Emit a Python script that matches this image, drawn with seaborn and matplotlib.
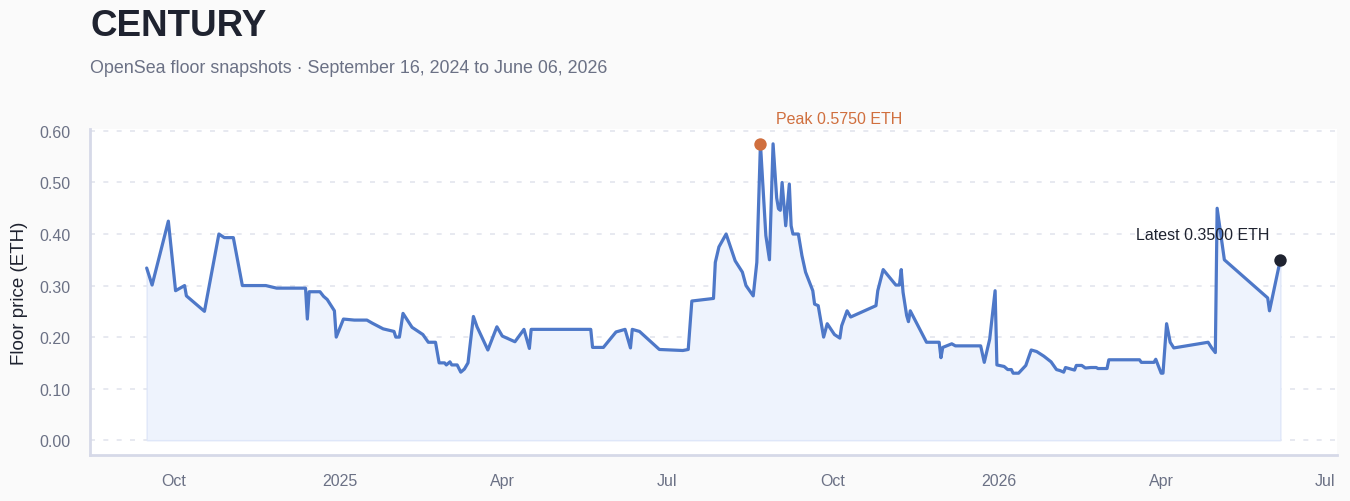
"""
CENTURY 地板价走势图
OpenSea floor snapshots, 折线 + 面积填充
"""

import matplotlib
matplotlib.use("Agg")
import matplotlib.pyplot as plt
import matplotlib.dates as mdates
import matplotlib.ticker as mticker
import seaborn as sns
import pandas as pd

# 数据
COLLECTION = "CENTURY"
SUBTITLE = "OpenSea floor snapshots · September 16, 2024 to June 06, 2026"

snapshot_dates = [
    "2024-09-16", "2024-09-19", "2024-09-28", "2024-10-02", "2024-10-07", "2024-10-08",
    "2024-10-18", "2024-10-26", "2024-10-29", "2024-11-03", "2024-11-08", "2024-11-21",
    "2024-11-27", "2024-12-13", "2024-12-14", "2024-12-15", "2024-12-21", "2024-12-23",
    "2024-12-25", "2024-12-29", "2024-12-30", "2025-01-03", "2025-01-09", "2025-01-16",
    "2025-01-19", "2025-01-25", "2025-01-31", "2025-02-01", "2025-02-03", "2025-02-05",
    "2025-02-10", "2025-02-13", "2025-02-16", "2025-02-19", "2025-02-23", "2025-02-25",
    "2025-02-28", "2025-03-01", "2025-03-03", "2025-03-04", "2025-03-07", "2025-03-09",
    "2025-03-11", "2025-03-13", "2025-03-16", "2025-03-18", "2025-03-24", "2025-03-29",
    "2025-04-01", "2025-04-08", "2025-04-13", "2025-04-16", "2025-04-17", "2025-05-20",
    "2025-05-21", "2025-05-27", "2025-06-03", "2025-06-08", "2025-06-11", "2025-06-12",
    "2025-06-16", "2025-06-27", "2025-07-10", "2025-07-13", "2025-07-15", "2025-07-27",
    "2025-07-28", "2025-07-30", "2025-08-03", "2025-08-08", "2025-08-12", "2025-08-14",
    "2025-08-18", "2025-08-20", "2025-08-22", "2025-08-25", "2025-08-27", "2025-08-29",
    "2025-08-31", "2025-09-01", "2025-09-02", "2025-09-03", "2025-09-05", "2025-09-07",
    "2025-09-08", "2025-09-09", "2025-09-12", "2025-09-14", "2025-09-16", "2025-09-20",
    "2025-09-21", "2025-09-23", "2025-09-26", "2025-09-28", "2025-10-02", "2025-10-05",
    "2025-10-06", "2025-10-09", "2025-10-11", "2025-10-25", "2025-10-26", "2025-10-29",
    "2025-11-05", "2025-11-07", "2025-11-08", "2025-11-09", "2025-11-11", "2025-11-12",
    "2025-11-13", "2025-11-17", "2025-11-22", "2025-11-29", "2025-11-30", "2025-12-01",
    "2025-12-06", "2025-12-08", "2025-12-22", "2025-12-24", "2025-12-27", "2025-12-30",
    "2025-12-31", "2026-01-04", "2026-01-06", "2026-01-08", "2026-01-09", "2026-01-12",
    "2026-01-16", "2026-01-19", "2026-01-22", "2026-01-26", "2026-01-30", "2026-02-02",
    "2026-02-04", "2026-02-06", "2026-02-07", "2026-02-10", "2026-02-12", "2026-02-13",
    "2026-02-16", "2026-02-18", "2026-02-21", "2026-02-24", "2026-02-25", "2026-03-02",
    "2026-03-03", "2026-03-20", "2026-03-21", "2026-03-28", "2026-03-29", "2026-04-01",
    "2026-04-02", "2026-04-04", "2026-04-06", "2026-04-08", "2026-04-27", "2026-04-29",
    "2026-05-01", "2026-05-02", "2026-05-06", "2026-05-30", "2026-05-31", "2026-06-06",
]

floor_eth = [
    0.334, 0.301, 0.425, 0.290, 0.300, 0.280,
    0.250, 0.400, 0.393, 0.393, 0.300, 0.300,
    0.295, 0.295, 0.235, 0.288, 0.288, 0.279,
    0.273, 0.251, 0.200, 0.235, 0.233, 0.233,
    0.227, 0.216, 0.211, 0.200, 0.200, 0.246,
    0.219, 0.212, 0.205, 0.190, 0.190, 0.150,
    0.150, 0.146, 0.152, 0.146, 0.146, 0.132,
    0.138, 0.150, 0.240, 0.220, 0.175, 0.220,
    0.202, 0.191, 0.215, 0.178, 0.215, 0.215,
    0.180, 0.180, 0.210, 0.215, 0.179, 0.215,
    0.211, 0.176, 0.174, 0.176, 0.270, 0.275,
    0.345, 0.375, 0.400, 0.348, 0.326, 0.300,
    0.280, 0.345, 0.575, 0.397, 0.350, 0.575,
    0.470, 0.449, 0.446, 0.500, 0.416, 0.497,
    0.416, 0.400, 0.400, 0.358, 0.326, 0.290,
    0.264, 0.261, 0.200, 0.226, 0.205, 0.198,
    0.222, 0.251, 0.239, 0.261, 0.290, 0.331,
    0.301, 0.301, 0.331, 0.287, 0.242, 0.230,
    0.251, 0.224, 0.190, 0.190, 0.160, 0.180,
    0.187, 0.183, 0.183, 0.151, 0.196, 0.290,
    0.146, 0.143, 0.137, 0.137, 0.130, 0.130,
    0.145, 0.175, 0.172, 0.163, 0.152, 0.137,
    0.135, 0.132, 0.141, 0.138, 0.136, 0.145,
    0.145, 0.140, 0.141, 0.141, 0.139, 0.139,
    0.156, 0.156, 0.151, 0.151, 0.157, 0.130,
    0.130, 0.226, 0.190, 0.179, 0.190, 0.179,
    0.170, 0.450, 0.350, 0.276, 0.251, 0.350,
]

# 颜色
LINE = "#4e78c8"
FILL = "#eef3fd"
FILL_EDGE = "#dfe7f9"
PEAK = "#d06f3e"
INK = "#1f2330"
MUTED = "#6b7185"
SPINE = "#d6d9e8"
GRID = "#e3e5ee"

sns.set_style("white")
plt.rcParams["font.family"] = ["Liberation Sans", "DejaVu Sans"]

df = pd.DataFrame({"date": pd.to_datetime(snapshot_dates), "floor": floor_eth})

W, H = 1350, 502
fig = plt.figure(figsize=(W / 100, H / 100), dpi=100, facecolor="#fafafa")
ax = fig.add_axes([90 / W, 1 - 456 / H, (1337 - 90) / W, (456 - 130) / H])
ax.set_facecolor("white")

# 面积 + 折线
ax.fill_between(df["date"], 0, df["floor"], facecolor=FILL,
                edgecolor=FILL_EDGE, linewidth=1, zorder=1)
sns.lineplot(data=df, x="date", y="floor", ax=ax, color=LINE,
             linewidth=2.3, zorder=3)

# 峰值和最新值标注
peak_i = df["floor"].idxmax()
peak_date, peak_val = df.loc[peak_i, "date"], df.loc[peak_i, "floor"]
last_date, last_val = df["date"].iloc[-1], df["floor"].iloc[-1]

ax.scatter([peak_date], [peak_val], s=80, color=PEAK, zorder=5, linewidths=0)
ax.annotate(f"Peak {peak_val:.4f} ETH", xy=(peak_date, peak_val),
            xytext=(11, 18), textcoords="offset points",
            ha="left", va="center", color=PEAK, fontsize=11.5)

ax.scatter([last_date], [last_val], s=80, color=INK, zorder=5, linewidths=0)
ax.annotate(f"Latest {last_val:.4f} ETH", xy=(last_date, last_val),
            xytext=(-8, 18), textcoords="offset points",
            ha="right", va="center", color=INK, fontsize=11.5)

# 坐标轴
ax.set_ylim(-0.05 * peak_val, 1.05 * peak_val)
ax.yaxis.set_major_locator(mticker.MultipleLocator(0.1))
ax.yaxis.set_major_formatter(mticker.FormatStrFormatter("%.2f"))

ax.xaxis.set_major_locator(mdates.MonthLocator(bymonth=[1, 4, 7, 10]))
ax.xaxis.set_major_formatter(mticker.FuncFormatter(
    lambda x, pos: mdates.num2date(x).strftime("%Y" if mdates.num2date(x).month == 1 else "%b")))

ax.set_xlabel("")
ax.set_ylabel("Floor price (ETH)", fontsize=13.5, color=INK)
ax.yaxis.set_label_coords(-0.050, 0.5)

ax.tick_params(axis="y", length=0, pad=14, labelsize=11.5, labelcolor=MUTED)
ax.tick_params(axis="x", length=0, pad=13, labelsize=11.5, labelcolor=MUTED)

ax.yaxis.grid(True, color=GRID, linestyle=(0, (3, 5)), linewidth=1.2)
ax.xaxis.grid(False)
ax.set_axisbelow(True)

sns.despine(ax=ax)
for side in ["left", "bottom"]:
    ax.spines[side].set_color(SPINE)
    ax.spines[side].set_linewidth(2)

# 标题
fig.text(90 / W, 1 - 36 / H, COLLECTION, fontsize=26.5, fontweight="bold",
         color=INK, ha="left", va="baseline")
fig.text(90 / W, 1 - 73 / H, SUBTITLE, fontsize=12.9, color=MUTED,
         ha="left", va="baseline")

fig.savefig("out.png", dpi=100, facecolor=fig.get_facecolor())
